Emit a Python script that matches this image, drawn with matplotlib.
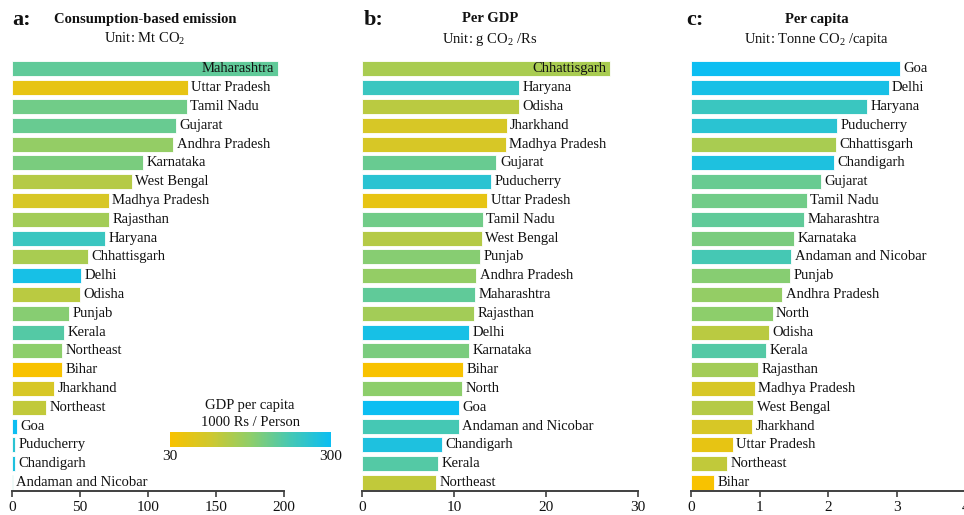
import matplotlib
matplotlib.use("Agg")
import matplotlib.pyplot as plt
import numpy as np
from matplotlib.colors import LinearSegmentedColormap, LogNorm
from matplotlib.cm import ScalarMappable

plt.rcParams['font.family'] = ['Liberation Serif', 'DejaVu Serif']
plt.rcParams['mathtext.fontset'] = 'custom'
plt.rcParams['mathtext.rm'] = 'Liberation Serif'
plt.rcParams['mathtext.it'] = 'Liberation Serif:italic'
plt.rcParams['mathtext.bf'] = 'Liberation Serif:bold'

# ---------------- data ----------------
a_regions = ["Maharashtra", "Uttar Pradesh", "Tamil Nadu", "Gujarat", "Andhra Pradesh",
             "Karnataka", "West Bengal", "Madhya Pradesh", "Rajasthan", "Haryana",
             "Chhattisgarh", "Delhi", "Odisha", "Punjab", "Kerala", "Northeast", "Bihar",
             "Jharkhand", "Northeast", "Goa", "Puducherry", "Chandigarh", "Andaman and Nicobar"]
a_values = [195.6, 129.1, 128.4, 120.3, 118.6, 96.6, 88.0, 71.4, 71.6, 68.4, 56.2, 50.6,
            50.1, 41.8, 38.4, 36.9, 36.7, 31.0, 25.2, 3.6, 2.4, 2.2, 0.7]
a_gdp = [137, 38, 119, 128, 90, 111, 67, 48, 79, 189, 75, 267, 64, 101, 150, 95, 30,
         48, 60, 300, 222, 250, 168]

b_regions = ["Chhattisgarh", "Haryana", "Odisha", "Jharkhand", "Madhya Pradesh", "Gujarat",
             "Puducherry", "Uttar Pradesh", "Tamil Nadu", "West Bengal", "Punjab",
             "Andhra Pradesh", "Maharashtra", "Rajasthan", "Delhi", "Karnataka", "Bihar",
             "North", "Goa", "Andaman and Nicobar", "Chandigarh", "Kerala", "Northeast"]
b_values = [27.0, 17.1, 17.0, 15.7, 15.6, 14.6, 14.0, 13.6, 13.1, 13.0, 12.8, 12.4, 12.25,
            12.2, 11.6, 11.6, 11.0, 10.9, 10.5, 10.5, 8.7, 8.2, 8.0]
b_gdp = [75, 189, 64, 48, 48, 128, 222, 38, 119, 67, 101, 90, 137, 79, 267, 111, 30,
         95, 300, 168, 250, 150, 60]

c_regions = ["Goa", "Delhi", "Haryana", "Puducherry", "Chhattisgarh", "Chandigarh", "Gujarat",
             "Tamil Nadu", "Maharashtra", "Karnataka", "Andaman and Nicobar", "Punjab",
             "Andhra Pradesh", "North", "Odisha", "Kerala", "Rajasthan", "Madhya Pradesh",
             "West Bengal", "Jharkhand", "Uttar Pradesh", "Northeast", "Bihar"]
c_values = [3.05, 2.88, 2.57, 2.13, 2.11, 2.09, 1.89, 1.69, 1.65, 1.50, 1.46, 1.44, 1.33,
            1.19, 1.14, 1.10, 0.98, 0.93, 0.91, 0.89, 0.61, 0.52, 0.33]
c_gdp = [300, 267, 189, 222, 75, 250, 128, 119, 137, 111, 168, 101, 90, 95, 64, 150, 79,
         48, 67, 48, 38, 60, 30]

a_ticks = [0, 50, 100, 150, 200]
b_ticks = [0, 10, 20, 30]
c_ticks = [0, 1, 2, 3, 4]

# ---------------- style ----------------
cmap = LinearSegmentedColormap.from_list(
    "gdp", [(0.0, "#F8C200"), (0.25, "#CFC82E"), (0.5, "#8ECE6A"),
            (0.75, "#45C8B4"), (1.0, "#0CBEF2")])
norm = LogNorm(vmin=30, vmax=300)

fig = plt.figure(figsize=(9.64, 5.15), dpi=100)

W, H = 964.0, 515.0
bottom = (H - 491.0) / H
height = (491.0 - 60.5) / H

panels = [
    dict(regions=a_regions, values=a_values, gdp=a_gdp, ticks=a_ticks, x0=11.7, x1=284.3,
         letter="a:", title="Consumption-based emission", unit="Unit: Mt CO$_2$",
         inside_top=True, title_x=145),
    dict(regions=b_regions, values=b_values, gdp=b_gdp, ticks=b_ticks, x0=362.3, x1=638.0,
         letter="b:", title="Per GDP", unit="Unit: g CO$_2$ /Rs",
         inside_top=True, title_x=490),
    dict(regions=c_regions, values=c_values, gdp=c_gdp, ticks=c_ticks, x0=691.0, x1=965.4,
         letter="c:", title="Per capita", unit="Unit: Tonne CO$_2$ /capita",
         inside_top=False, title_x=817),
]

letter_x = [12, 364, 686]

for i, p in enumerate(panels):
    ax = fig.add_axes([p["x0"] / W, bottom, (p["x1"] - p["x0"]) / W, height])
    n = len(p["regions"])
    y = np.arange(n)
    colors = [cmap(norm(g)) for g in p["gdp"]]
    ax.barh(y, p["values"], height=0.8, color=colors, edgecolor="white", linewidth=0.6)
    ax.set_ylim(n - 1 + 0.45, -0.45)
    ax.set_xlim(p["ticks"][0], p["ticks"][-1])
    ax.set_xticks(p["ticks"])
    ax.set_yticks([])
    for s in ["top", "right", "left"]:
        ax.spines[s].set_visible(False)
    ax.spines["bottom"].set_color("#404040")
    ax.spines["bottom"].set_linewidth(1.4)
    ax.tick_params(axis="x", length=4, width=1.2, color="#404040", labelsize=11,
                   labelcolor="#111111", pad=3)
    for j, (lab, v) in enumerate(zip(p["regions"], p["values"])):
        if j == 0 and p["inside_top"]:
            ax.annotate(lab, (v, j), xytext=(-3, 0), textcoords="offset points",
                        ha="right", va="center", fontsize=10.5, color="#111111")
        else:
            ax.annotate(lab, (v, j), xytext=(2.5, 0), textcoords="offset points",
                        ha="left", va="center", fontsize=10.5, color="#111111")
    fig.text(letter_x[i] / W, 1 - 20 / H, p["letter"], fontsize=16, fontweight="bold",
             ha="left", va="center", color="#111111")
    fig.text(p["title_x"] / W, 1 - 19 / H, p["title"], fontsize=10.5, fontweight="bold",
             ha="center", va="center", color="#111111")
    fig.text(p["title_x"] / W, 1 - 39 / H, p["unit"], fontsize=10.5,
             ha="center", va="center", color="#111111")

# colorbar
cax = fig.add_axes([170 / W, (H - 447) / H, 161 / W, 15 / H])
sm = ScalarMappable(norm=norm, cmap=cmap)
cb = fig.colorbar(sm, cax=cax, orientation="horizontal")
cb.outline.set_visible(False)
cb.set_ticks([30, 300])
cb.set_ticklabels(["30", "300"])
cax.xaxis.set_minor_locator(matplotlib.ticker.NullLocator())
cax.tick_params(axis="x", length=0, labelsize=11, pad=2, labelcolor="#111111")
fig.text(250 / W, 1 - 405 / H, "GDP per capita", fontsize=10.5, ha="center", va="center",
         color="#111111")
fig.text(250 / W, 1 - 423 / H, "1000 Rs / Person", fontsize=10.5, ha="center", va="center",
         color="#111111")

fig.savefig("out.png", dpi=100)
